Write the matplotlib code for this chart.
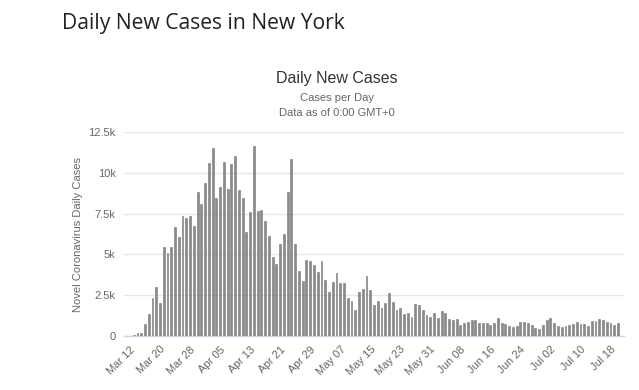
import matplotlib
matplotlib.use("Agg")
import matplotlib.pyplot as plt
import numpy as np

# ── Data ──────────────────────────────────────────────────────────────────────

daily_cases = [
    30, 40, 160, 170, 730, 1340, 2300, 3000, 2000, 5430,
    5080, 5450, 6670, 6080, 7380, 7220, 7360, 6770, 8800, 8090,
    9350, 10630, 11500, 8470, 9100, 10690, 8990, 10520, 11020, 8930,
    8440, 6390, 7590, 11670, 7640, 7730, 7040, 6150, 4870, 4420,
    5660, 6260, 8830, 10840, 5610, 3960, 3390, 4660, 4610, 4360,
    3930, 4620, 3420, 2710, 3330, 3860, 3260, 3260, 2350, 2120,
    1570, 2710, 2880, 3690, 2830, 1900, 2160, 1740, 2020, 2650,
    2100, 1580, 1740, 1350, 1410, 1140, 1960, 1910, 1570, 1260,
    1140, 1420, 1080, 1530, 1400, 1030, 1000, 1030, 700, 770,
    830, 990, 990, 770, 770, 770, 700, 770, 1080, 780,
    760, 640, 570, 640, 860, 860, 790, 690, 470, 410,
    690, 980, 1080, 810, 590, 550, 590, 690, 750, 850,
    750, 750, 590, 910, 910, 1020, 980, 850, 790, 650,
    810,
]

date_labels = ["Mar 12", "Mar 20", "Mar 28", "Apr 05", "Apr 13", "Apr 21",
               "Apr 29", "May 07", "May 15", "May 23", "May 31", "Jun 08",
               "Jun 16", "Jun 24", "Jul 02", "Jul 10", "Jul 18"]
label_every = 8   # days between date labels

y_ticks = [0, 2500, 5000, 7500, 10000, 12500]
y_tick_labels = ["0", "2.5k", "5k", "7.5k", "10k", "12.5k"]

# ── Figure ────────────────────────────────────────────────────────────────────

W, H = 639, 390
fig = plt.figure(figsize=(W / 100, H / 100), dpi=100)
fig.patch.set_facecolor("white")

left, right, top, bottom = 124, 624, 132, 336
ax = fig.add_axes([left / W, 1 - bottom / H, (right - left) / W, (bottom - top) / H])

x = np.arange(len(daily_cases))
ax.bar(x, daily_cases, width=0.5, color="#8a8a8a", edgecolor="#777777",
       linewidth=0.4, zorder=3)

ax.set_xlim(-1.6, len(daily_cases) + 0.6)
ax.set_ylim(0, 12500)

ax.set_yticks(y_ticks)
ax.set_yticklabels(y_tick_labels)
ax.set_xticks(np.arange(len(date_labels)) * label_every)
ax.set_xticklabels(date_labels, rotation=45, ha="right", rotation_mode="anchor")

ax.grid(True, axis="y", color="#e6e6e6", linewidth=1.0, zorder=0)
ax.set_axisbelow(True)
for s in ("top", "right", "left"):
    ax.spines[s].set_visible(False)
ax.spines["bottom"].set_color("#ccd6eb")
ax.spines["bottom"].set_linewidth(1.0)
ax.tick_params(axis="both", length=0, labelsize=8, colors="#666666",
               labelfontfamily="Liberation Sans")
ax.tick_params(axis="x", pad=6)
ax.tick_params(axis="y", pad=6)

ax.set_ylabel("Novel Coronavirus Daily Cases", fontsize=8, color="#666666",
              family="Liberation Sans", labelpad=4)

# ── Titles ────────────────────────────────────────────────────────────────────

fig.text(62 / W, 1 - 24 / H, "Daily New Cases in New York", fontsize=15.2,
         color="#222222", family="Open Sans", ha="left", va="center")
fig.text(337 / W, 1 - 78 / H, "Daily New Cases", fontsize=11.5,
         color="#333333", family="Liberation Sans", ha="center", va="center")
fig.text(337 / W, 1 - 98 / H, "Cases per Day", fontsize=8,
         color="#666666", family="Liberation Sans", ha="center", va="center")
fig.text(337 / W, 1 - 113 / H, "Data as of 0:00 GMT+0", fontsize=8,
         color="#666666", family="Liberation Sans", ha="center", va="center")

fig.savefig("out.png", dpi=100, facecolor="white")
